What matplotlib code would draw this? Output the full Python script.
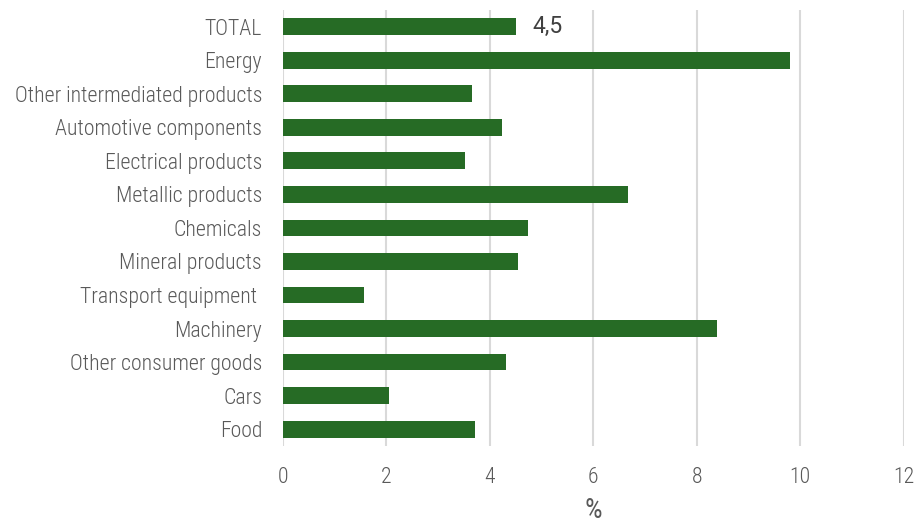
import numpy as np
import matplotlib.pyplot as plt

# categories top to bottom
categories = ['TOTAL', 'Energy', 'Other intermediated products', 'Automotive components',
              'Electrical products', 'Metallic products', 'Chemicals', 'Mineral products',
              'Transport equipment ', 'Machinery', 'Other consumer goods', 'Cars', 'Food']
values = [4.5, 9.8, 3.65, 4.23, 3.52, 6.67, 4.74, 4.54, 1.56, 8.39, 4.31, 2.05, 3.71]
xticks = [0, 2, 4, 6, 8, 10, 12]

plt.rcParams['font.family'] = ['Roboto Condensed', 'DejaVu Sans']
plt.rcParams['font.weight'] = 'light'

fig = plt.figure(figsize=(9.17, 5.24), dpi=100)
ax = fig.add_axes([0.3085, 0.149, 0.677, 0.832])

y = np.arange(len(categories))
ax.barh(y, values, height=0.5, color='#266b25', zorder=3)
ax.set_ylim(len(categories) - 0.5, -0.5)
ax.set_xlim(0, 12)
ax.set_xticks(xticks)
ax.set_xticklabels([str(t) for t in xticks])
ax.set_yticks(y)
ax.set_yticklabels(categories)

ax.grid(axis='x', color='#d9d9d9', linewidth=1.5, zorder=0)
for s in ax.spines.values():
    s.set_visible(False)
ax.tick_params(axis='both', length=0, labelsize=15.7, labelcolor='#595959')
ax.tick_params(axis='y', pad=15)
ax.tick_params(axis='x', pad=15)
ax.set_xlabel('%', fontsize=20, color='#595959', labelpad=7)

ax.annotate('4,5', xy=(values[0], 0), xytext=(12, 0), textcoords='offset points',
            va='center', ha='left', fontsize=16.5, color='#404040',
            family=['Roboto', 'DejaVu Sans'], weight='normal')

fig.savefig('out.png', dpi=100)
